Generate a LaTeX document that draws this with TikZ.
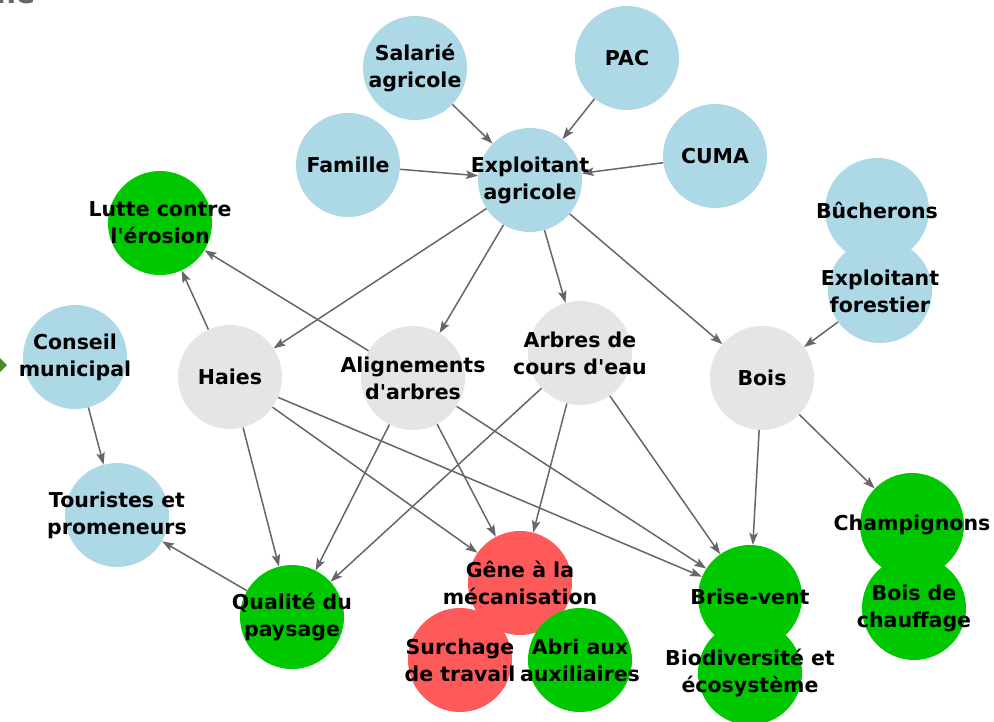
\documentclass[tikz,border=0pt]{standalone}
\usepackage{fontspec}
\setmainfont{DejaVu Sans}[Ligatures=TeXOff]
\usetikzlibrary{arrows.meta}
\definecolor{cblue}{HTML}{ADD8E6}
\definecolor{cgray}{HTML}{E5E5E5}
\definecolor{cgreen}{HTML}{00C800}
\definecolor{cred}{HTML}{FF5A5A}
\definecolor{cedge}{HTML}{666666}
\definecolor{cdark}{HTML}{4A8A2A}
\tikzset{
  circ/.style={circle, minimum size=104pt, inner sep=0pt, draw=none},
  bluec/.style={circ, fill=cblue},
  grayc/.style={circ, fill=cgray},
  greenc/.style={circ, fill=cgreen},
  redc/.style={circ, fill=cred},
  lbl/.style={align=center, inner sep=0pt, font=\fontsize{20.5}{27}\selectfont\bfseries, text=black},
  edge/.style={draw=cedge, line width=1.5pt, -{Stealth[length=12pt,width=8.5pt,inset=2.5pt]}},
}
\begin{document}
\begin{tikzpicture}[x=1pt,y=-1pt]
\useasboundingbox (0,0) rectangle (994,721);
% partial elements at the borders
\node[anchor=base west, inner sep=0pt, text=cedge, font=\fontsize{28}{30}\selectfont\bfseries] (cut) at (-4,3) {ne};
\fill[cdark] (0,358) -- (7,365) -- (0,372) -- cycle;
% circles
\node[bluec] (sal) at (415,68) {};
\node[bluec] (pac) at (627,58) {};
\node[bluec] (fam) at (348,165) {};
\node[bluec] (cuma) at (715,156) {};
\node[bluec] (ea) at (530,180) {};
\node[bluec] (buch) at (877,210) {};
\node[bluec] (ef) at (880,291) {};
\node[greenc] (lutte) at (160,223) {};
\node[bluec] (cons) at (75,357) {};
\node[bluec] (tour) at (117,515) {};
\node[grayc] (haies) at (230,377) {};
\node[grayc] (align) at (413,378) {};
\node[grayc] (arbres) at (580,353) {};
\node[grayc] (bois) at (762,378) {};
\node[greenc] (qual) at (292,617) {};
\node[redc] (gene) at (520,583) {};
\node[redc] (surch) at (460,660) {};
\node[greenc] (abri) at (580,660) {};
\node[greenc] (brise) at (750,597) {};
\node[greenc] (bio) at (750,673) {};
\node[greenc] (champ) at (912,525) {};
\node[greenc] (bdc) at (914,608) {};
% edges
\draw[edge] (sal) -- (ea);
\draw[edge] (pac) -- (ea);
\draw[edge] (fam) -- (ea);
\draw[edge] (cuma) -- (ea);
\draw[edge] (ea) -- (haies);
\draw[edge] (ea) -- (align);
\draw[edge] (ea) -- (arbres);
\draw[edge] (ea) -- (bois);
\draw[edge] (ef) -- (bois);
\draw[edge] (haies) -- (lutte);
\draw[edge] (align) -- (lutte);
\draw[edge] (cons) -- (tour);
\draw[edge] (qual) -- (tour);
\draw[edge] (haies) -- (qual);
\draw[edge] (align) -- (qual);
\draw[edge] (arbres) -- (qual);
\draw[edge] (haies) -- (gene);
\draw[edge] (align) -- (gene);
\draw[edge] (arbres) -- (gene);
\draw[edge] (haies) -- (brise);
\draw[edge] (align) -- (brise);
\draw[edge] (arbres) -- (brise);
\draw[edge] (bois) -- (brise);
\draw[edge] (bois) -- (champ);
% labels
\node[lbl] (t-sal) at (sal) {Salarié\\agricole};
\node[lbl] (t-pac) at (pac) {PAC};
\node[lbl] (t-fam) at (fam) {Famille};
\node[lbl] (t-cuma) at (cuma) {CUMA};
\node[lbl] (t-ea) at (ea) {Exploitant\\agricole};
\node[lbl] (t-buch) at (buch) {Bûcherons};
\node[lbl] (t-ef) at (ef) {Exploitant\\forestier};
\node[lbl] (t-lutte) at (lutte) {Lutte contre\\l'érosion};
\node[lbl] (t-cons) at (cons) {Conseil\\municipal};
\node[lbl] (t-tour) at (tour) {Touristes et\\promeneurs};
\node[lbl] (t-haies) at (haies) {Haies};
\node[lbl] (t-align) at (align) {Alignements\\d'arbres};
\node[lbl] (t-arbres) at (arbres) {Arbres de\\cours d'eau};
\node[lbl] (t-bois) at (bois) {Bois};
\node[lbl] (t-qual) at (qual) {Qualité du\\paysage};
\node[lbl] (t-gene) at (gene) {Gêne à la\\mécanisation};
\node[lbl] (t-surch) at (surch) {Surchage\\de travail};
\node[lbl] (t-abri) at (abri) {Abri aux\\auxiliaires};
\node[lbl] (t-brise) at (brise) {Brise-vent};
\node[lbl] (t-bio) at (bio) {Biodiversité et\\écosystème};
\node[lbl] (t-champ) at (champ) {Champignons};
\node[lbl] (t-bdc) at (bdc) {Bois de\\chauffage};
\end{tikzpicture}
\end{document}
